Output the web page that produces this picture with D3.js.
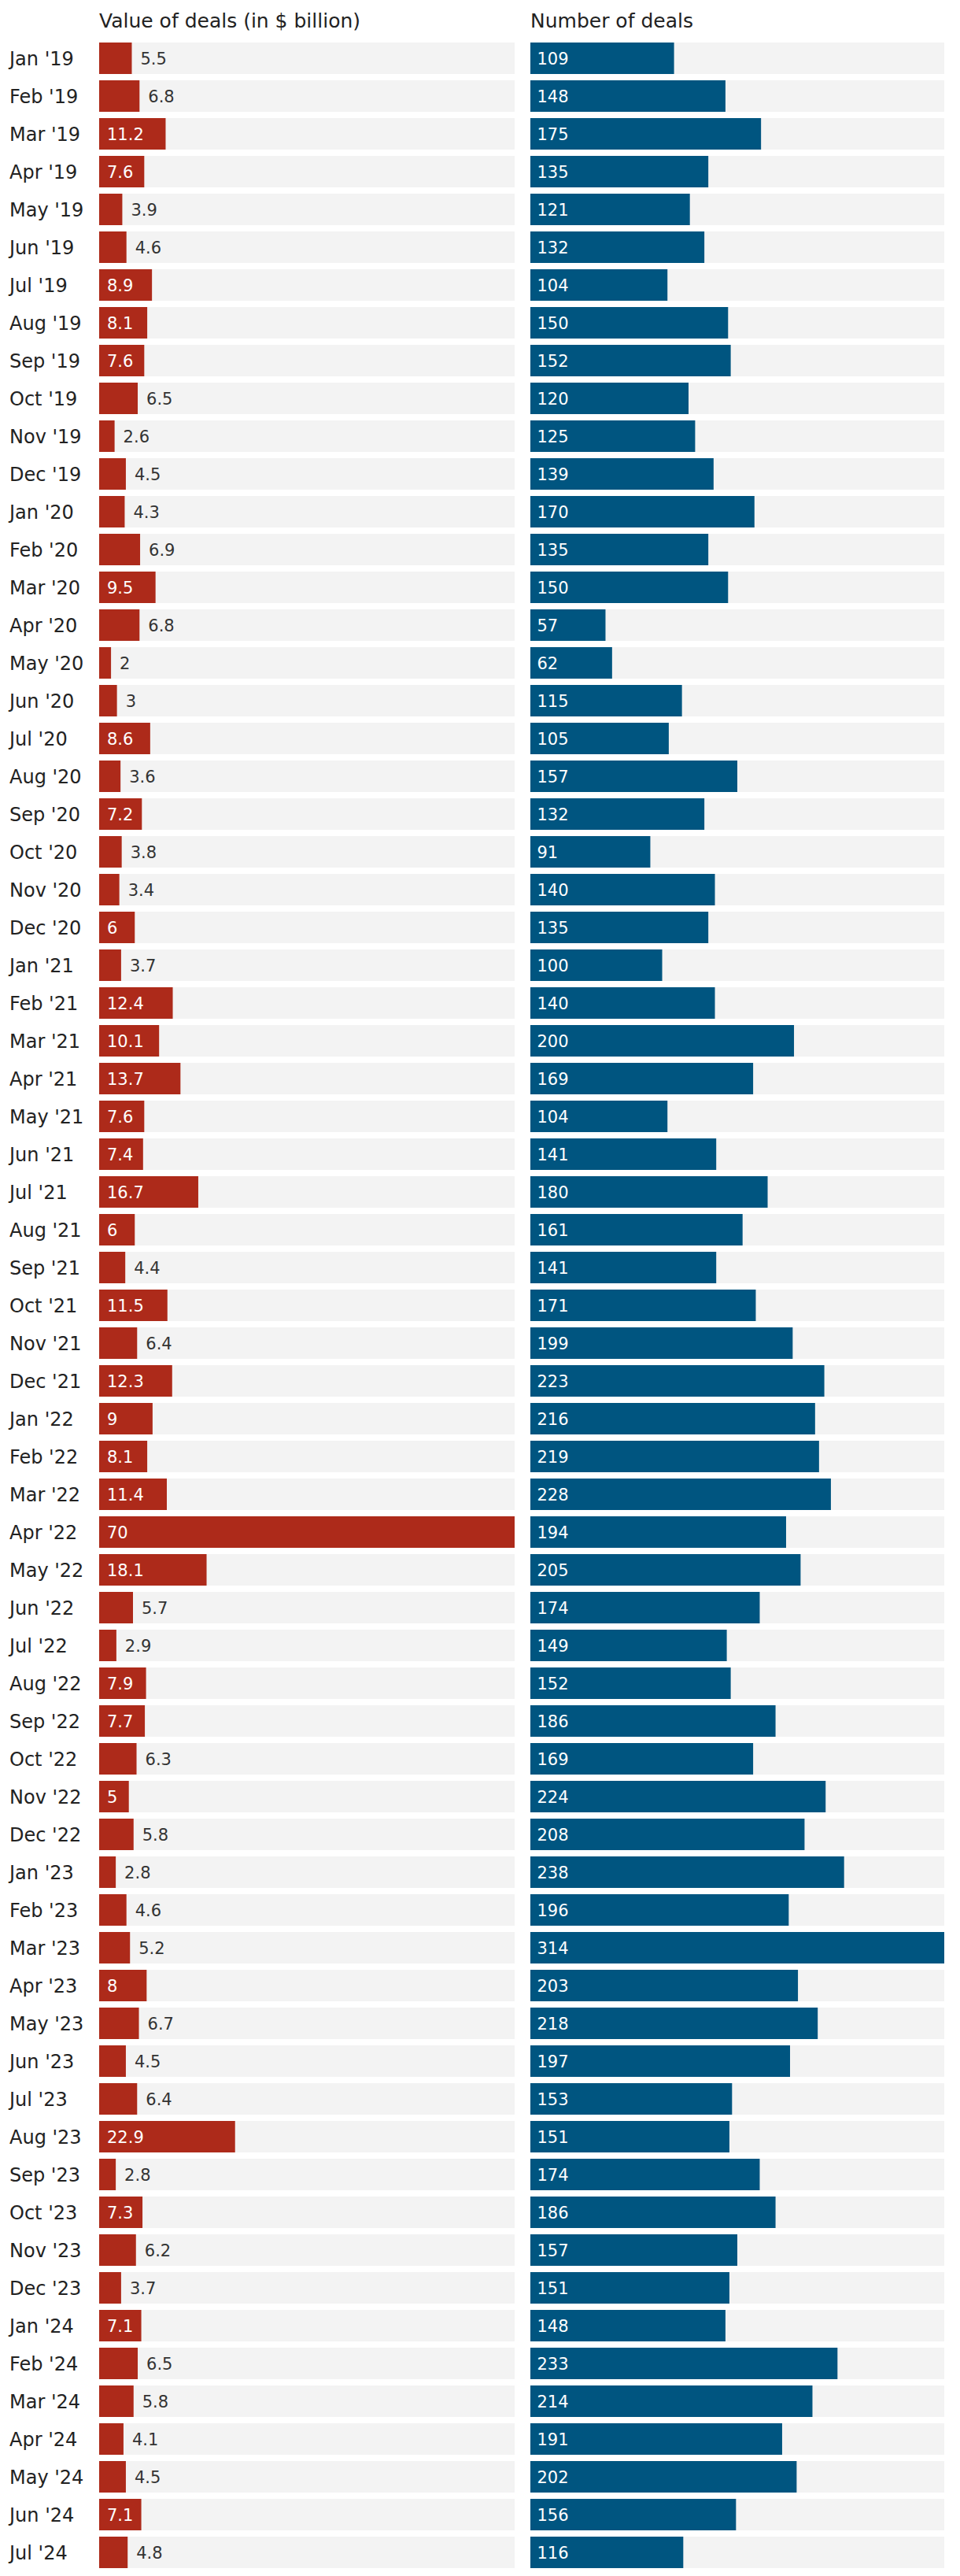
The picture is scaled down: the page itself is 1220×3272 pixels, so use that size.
<!DOCTYPE html>
<html>
<head>
<meta charset="utf-8">
<script src="https://cdn.jsdelivr.net/npm/d3@7"></script>
<style>
  html, body { margin: 0; padding: 0; background: #fff; }
  svg { display: block; font-family: "DejaVu Sans", sans-serif; }
</style>
</head>
<body>
<svg id="chart" width="1220" height="3272"></svg>
<script>
const months = [
  "Jan '19","Feb '19","Mar '19","Apr '19","May '19","Jun '19","Jul '19","Aug '19","Sep '19","Oct '19","Nov '19","Dec '19",
  "Jan '20","Feb '20","Mar '20","Apr '20","May '20","Jun '20","Jul '20","Aug '20","Sep '20","Oct '20","Nov '20","Dec '20",
  "Jan '21","Feb '21","Mar '21","Apr '21","May '21","Jun '21","Jul '21","Aug '21","Sep '21","Oct '21","Nov '21","Dec '21",
  "Jan '22","Feb '22","Mar '22","Apr '22","May '22","Jun '22","Jul '22","Aug '22","Sep '22","Oct '22","Nov '22","Dec '22",
  "Jan '23","Feb '23","Mar '23","Apr '23","May '23","Jun '23","Jul '23","Aug '23","Sep '23","Oct '23","Nov '23","Dec '23",
  "Jan '24","Feb '24","Mar '24","Apr '24","May '24","Jun '24","Jul '24"
];
const dealValues = [
  5.5, 6.8, 11.2, 7.6, 3.9, 4.6, 8.9, 8.1, 7.6, 6.5, 2.6, 4.5,
  4.3, 6.9, 9.5, 6.8, 2, 3, 8.6, 3.6, 7.2, 3.8, 3.4, 6,
  3.7, 12.4, 10.1, 13.7, 7.6, 7.4, 16.7, 6, 4.4, 11.5, 6.4, 12.3,
  9, 8.1, 11.4, 70, 18.1, 5.7, 2.9, 7.9, 7.7, 6.3, 5, 5.8,
  2.8, 4.6, 5.2, 8, 6.7, 4.5, 6.4, 22.9, 2.8, 7.3, 6.2, 3.7,
  7.1, 6.5, 5.8, 4.1, 4.5, 7.1, 4.8
];
const dealCounts = [
  109, 148, 175, 135, 121, 132, 104, 150, 152, 120, 125, 139,
  170, 135, 150, 57, 62, 115, 105, 157, 132, 91, 140, 135,
  100, 140, 200, 169, 104, 141, 180, 161, 141, 171, 199, 223,
  216, 219, 228, 194, 205, 174, 149, 152, 186, 169, 224, 208,
  238, 196, 314, 203, 218, 197, 153, 151, 174, 186, 157, 151,
  148, 233, 214, 191, 202, 156, 116
];
const panelTitles = ["Value of deals (in $ billion)", "Number of deals"];

const svg = d3.select("#chart");
const W = 1220, H = 3272;
svg.append("rect").attr("width", W).attr("height", H).attr("fill", "#fff");

const y = d3.scaleBand().domain(months).range([50, 3266]).paddingInner(8 / 48).paddingOuter(4 / 48);

const panels = [
  { title: panelTitles[0], values: dealValues, x0: 126, x1: 654, color: "#ad2a1a", inPad: 10 },
  { title: panelTitles[1], values: dealCounts, x0: 674, x1: 1200, color: "#005580", inPad: 8.5 }
];

// category labels
svg.append("g").selectAll("text").data(months).join("text")
  .attr("x", 12)
  .attr("y", d => y(d) + y.bandwidth() / 2 + 9)
  .attr("font-size", 24)
  .attr("fill", "#222")
  .text(d => d);

panels.forEach(p => {
  const x = d3.scaleLinear().domain([0, d3.max(p.values)]).range([p.x0, p.x1]);
  const g = svg.append("g");
  g.append("text").attr("x", p.x0).attr("y", 35).attr("font-size", 25).attr("fill", "#222").text(p.title);
  const rows = months.map((m, i) => ({ m, v: p.values[i] }));
  g.selectAll("rect.bg").data(rows).join("rect").attr("class", "bg")
    .attr("x", x(0)).attr("y", d => y(d.m)).attr("width", x.range()[1] - x(0)).attr("height", y.bandwidth())
    .attr("fill", "#f3f3f3");
  g.selectAll("rect.bar").data(rows).join("rect").attr("class", "bar")
    .attr("x", x(0)).attr("y", d => y(d.m)).attr("width", d => x(d.v) - x(0)).attr("height", y.bandwidth())
    .attr("fill", p.color);
  const labels = g.selectAll("text.val").data(rows).join("text").attr("class", "val")
    .attr("font-size", 21)
    .attr("y", d => y(d.m) + y.bandwidth() / 2 + 8)
    .text(d => d.v);
  labels.each(function(d) {
    const tw = this.getComputedTextLength();
    const bw = x(d.v) - x(0);
    const inside = tw + 19.5 <= bw;
    d3.select(this)
      .attr("x", inside ? x(0) + p.inPad : x(d.v) + 11)
      .attr("fill", inside ? "#fff" : "#333");
  });
});
</script>
</body>
</html>
